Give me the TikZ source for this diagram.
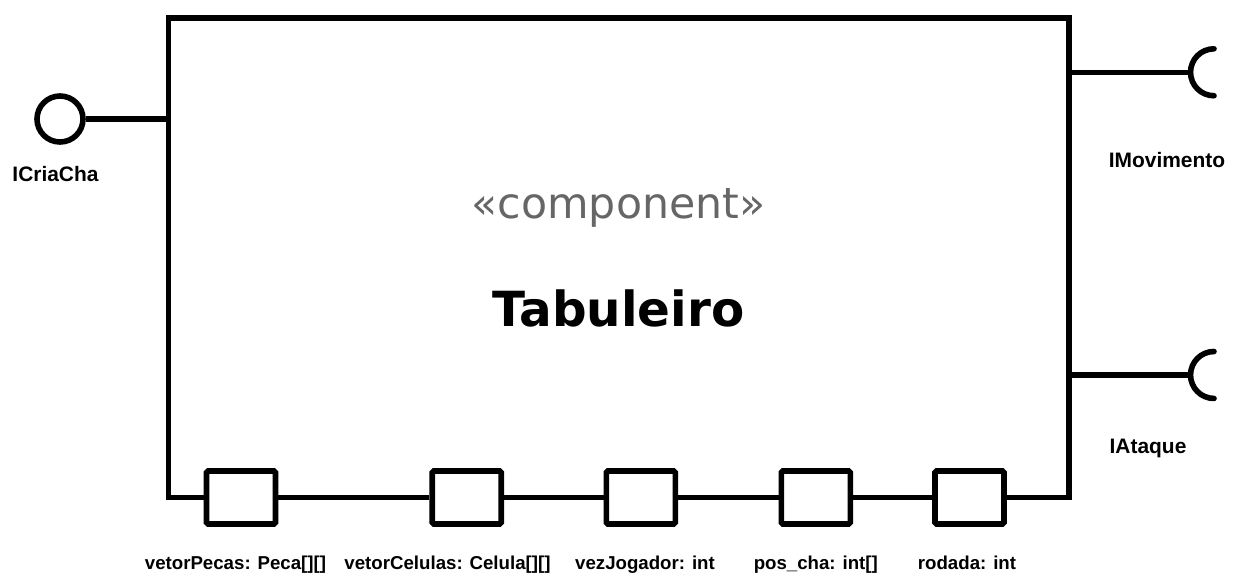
\documentclass[tikz,border=0pt]{standalone}
\usepackage{fontspec}
\newfontfamily\labfont{Liberation Sans}
\newfontfamily\dvfont{DejaVu Sans}
\definecolor{stereo}{HTML}{666666}
\begin{document}
\begin{tikzpicture}[x=0.75pt,y=-0.75pt,
  ln/.style={line width=4.2pt},
  portbox/.style={draw,line width=4.2pt,rounded corners=1.2pt,minimum width=51.75pt,minimum height=39.75pt,inner sep=0pt,fill=white},
  lolli/.style={draw,circle,line width=4.2pt,minimum size=34.5pt,inner sep=0pt,fill=white},
  lab/.style={font=\labfont\bfseries\fontsize{14}{16}\selectfont,anchor=base,inner sep=0pt},
  ilab/.style={font=\labfont\bfseries\fontsize{15.7}{18}\selectfont,anchor=base,inner sep=0pt},
]
\useasboundingbox (0,0) rectangle (1238,587);
% corners of component outline
\coordinate (bl) at (168.5,497.5);
\coordinate (tl) at (168.5,18);
\coordinate (tr) at (1069,18);
\coordinate (br) at (1069,497.5);
% ports
\node[portbox] (p1) at (241,497.5) {};
\node[portbox] (p2) at (466.7,497.5) {};
\node[portbox] (p3) at (640.8,497.5) {};
\node[portbox] (p4) at (815.8,497.5) {};
\node[portbox] (p5) at (969.5,497.5) {};
% outline
\draw[ln,line join=miter] (p1.west) -- (bl) -- (tl) -- (tr) -- (br) -- (p5.east);
\draw[ln] (p1.east) -- (p2.west);
\draw[ln] (p2.east) -- (p3.west);
\draw[ln] (p3.east) -- (p4.west);
\draw[ln] (p4.east) -- (p5.west);
% provided interface
\node[lolli] (ic) at (60,119) {};
\coordinate (icj) at (168.5,119);
\draw[ln] (ic.east) -- (icj);
% required interfaces
\coordinate (m0) at (1069,72.3);
\coordinate (m1) at (1190.5,72.3);
\coordinate (ma) at (1214,48.8);
\draw[ln] (m0) -- (m1);
\draw[ln,line cap=round] (ma) arc[start angle=90,end angle=270,radius=17.6pt];
\coordinate (a0) at (1069,375);
\coordinate (a1) at (1190.5,375);
\coordinate (aa) at (1214,351.5);
\draw[ln] (a0) -- (a1);
\draw[ln,line cap=round] (aa) arc[start angle=90,end angle=270,radius=17.6pt];
% texts
\node[font=\dvfont\fontsize{32}{36}\selectfont,text=stereo,anchor=base,inner sep=0pt] (st) at (618.5,218) {«component»};
\node[font=\dvfont\bfseries\fontsize{36.3}{40}\selectfont,anchor=base,inner sep=0pt] (nm) at (618.5,326.5) {Tabuleiro};
\node[ilab] (lic) at (55.5,181) {ICriaCha};
\node[ilab] (lmv) at (1167,167.7) {IMovimento};
\node[ilab] (lat) at (1148,453.3) {IAtaque};
\node[lab] (l1) at (235.5,569) {vetorPecas: Peca[][]};
\node[lab] (l2) at (447.5,569) {vetorCelulas: Celula[][]};
\node[lab] (l3) at (645,569) {vezJogador: int};
\node[lab] (l4) at (815.8,569) {pos\_cha: int[]};
\node[lab] (l5) at (967,569) {rodada: int};
\end{tikzpicture}
\end{document}
